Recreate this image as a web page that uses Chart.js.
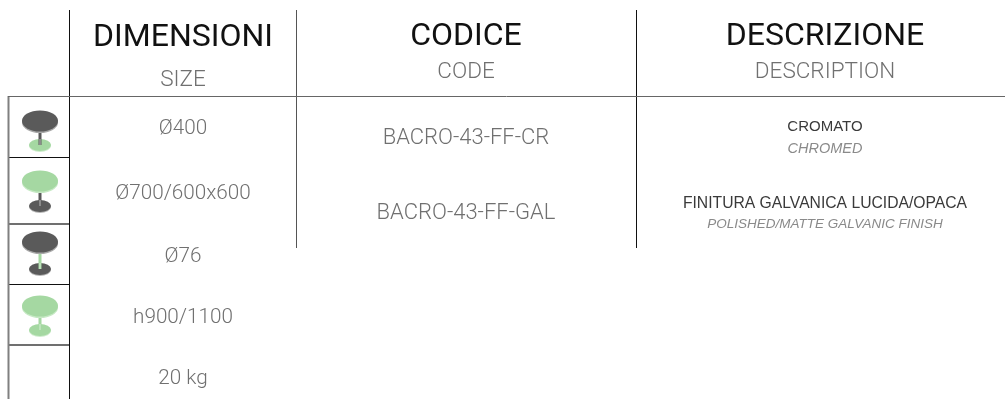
<!DOCTYPE html>
<html lang="it">
<head>
<meta charset="utf-8">
<title>BACRO-43 — scheda prodotto</title>
<style>
  html, body { margin: 0; padding: 0; background: #fff; }
  canvas { display: block; }
</style>
</head>
<body>
<canvas id="sheet" width="1005" height="399"></canvas>
<script src="https://cdn.jsdelivr.net/npm/chart.js@4"></script>
<script>
// ── Contenuti ────────────────────────────────────────────────────────────────
var headers     = ['DIMENSIONI', 'CODICE', 'DESCRIZIONE'];
var subHeaders  = ['SIZE', 'CODE', 'DESCRIPTION'];
var sizes       = ['Ø400', 'Ø700/600x600', 'Ø76', 'h900/1100', '20 kg'];
var codes       = ['BACRO-43-FF-CR', 'BACRO-43-FF-GAL'];
var finishes    = ['CROMATO', 'FINITURA GALVANICA LUCIDA/OPACA'];
var finishesEn  = ['CHROMED', 'POLISHED/MATTE GALVANIC FINISH'];
var iconColours = [['dark', 'dark', 'green'], ['green', 'dark', 'dark'], ['dark', 'green', 'dark'], ['green', 'green', 'green']]; // piano, stelo, base

// ── Layout (in pixel di pagina, gli assi coprono tutta la tela) ──────────────
var DARK = '#5a5a5a', GREEN = '#a5d8a2';
var PAL = { dark: DARK, green: GREEN };
var headX = [183, 466, 825];
var headY = [38, 36.5, 36.5];
var subY  = [80, 72, 72];
var sizeY = [129, 194, 257, 318, 379];
var codeY = [138, 213];
var finY  = [127, 204];
var finEnY = [149, 224];
var finFont = ['15px "Liberation Sans"', '15.7px "Liberation Sans"'];
var finEnFont = ['italic 14.5px "Liberation Sans"', 'italic 13.5px "Liberation Sans"'];
var iconX = 40;
var iconTopY  = [121, 181, 242, 306];
var iconBaseY = [145, 206, 269, 330];
var rules = [
  { x1: 8,   y1: 96.5,  x2: 1005, y2: 96.5,  c: '#666666', w: 1 },
  { x1: 8.5, y1: 96,    x2: 8.5,  y2: 399,   c: '#808080', w: 2 },
  { x1: 69.5, y1: 10,   x2: 69.5, y2: 399,   c: '#111111', w: 1 },
  { x1: 296.5, y1: 10,  x2: 296.5, y2: 248,  c: '#555555', w: 1 },
  { x1: 636.5, y1: 10,  x2: 636.5, y2: 248,  c: '#111111', w: 1 },
  { x1: 8,   y1: 157.5, x2: 69,   y2: 157.5, c: '#111111', w: 1 },
  { x1: 8,   y1: 224,   x2: 69,   y2: 224,   c: '#707070', w: 2 },
  { x1: 8,   y1: 284.5, x2: 69,   y2: 284.5, c: '#111111', w: 1 },
  { x1: 8,   y1: 345,   x2: 69,   y2: 345,   c: '#707070', w: 2 }
];

// ── Testi e icone ────────────────────────────────────────────────────────────
function put(ctx, txt, x, y, font, colour) {
  ctx.font = font;
  ctx.fillStyle = colour;
  ctx.textAlign = 'center';
  ctx.textBaseline = 'middle';
  ctx.fillText(txt, x, y);
}

function ell(ctx, cx, cy, rx, ry, colour) {
  ctx.beginPath();
  ctx.ellipse(cx, cy, rx, ry, 0, 0, Math.PI * 2);
  ctx.fillStyle = colour;
  ctx.fill();
}

function drawIcon(ctx, sx, sy, i) {
  var c = iconColours[i];
  var cx = sx.getPixelForValue(iconX);
  var top = sy.getPixelForValue(iconTopY[i]);
  var base = sy.getPixelForValue(iconBaseY[i]);
  // base con ombra/bordo chiaro
  ell(ctx, cx, base + 1, 11, 6, c[2] === 'dark' ? '#b5b5b5' : '#cfeccd');
  ell(ctx, cx, base, 11, 6, PAL[c[2]]);
  // stelo
  ctx.fillStyle = PAL[c[1]];
  ctx.fillRect(cx - 1.5, top, 3, base - top);
  ctx.fillStyle = c[1] === 'dark' ? '#bbbbbb' : '#d5efd3';
  ctx.fillRect(cx - 0.5, base - 6, 1, 6);
  // piano con spessore
  ell(ctx, cx, top + 1.5, 18, 10.5, c[0] === 'dark' ? '#a8a8a8' : '#c6e9c4');
  ell(ctx, cx, top, 18, 10.5, PAL[c[0]]);
}

var sheetPlugin = {
  id: 'sheet',
  afterDatasetsDraw: function (chart) {
    var ctx = chart.ctx, sx = chart.scales.x, sy = chart.scales.y;
    function X(v) { return sx.getPixelForValue(v); }
    function Y(v) { return sy.getPixelForValue(v); }
    ctx.save();
    headers.forEach(function (t, i) {
      put(ctx, t, X(headX[i]), Y(headY[i]), '400 32px Roboto', '#111111');
      put(ctx, subHeaders[i], X(headX[i]), Y(subY[i]), '300 22.5px Roboto', '#707070');
    });
    sizes.forEach(function (t, i) {
      put(ctx, t, X(headX[0]), Y(sizeY[i]), '300 20.7px Roboto', '#707070');
    });
    codes.forEach(function (t, i) {
      put(ctx, t, X(headX[1]), Y(codeY[i]), '300 22px Roboto', '#707070');
    });
    finishes.forEach(function (t, i) {
      put(ctx, t, X(headX[2]), Y(finY[i]), finFont[i], '#3a3a3a');
      put(ctx, finishesEn[i], X(headX[2]), Y(finEnY[i]), finEnFont[i], '#8a8a8a');
    });
    iconColours.forEach(function (c, i) { drawIcon(ctx, sx, sy, i); });
    ctx.restore();
  }
};

// ── Grafico ──────────────────────────────────────────────────────────────────
var ruleSets = rules.map(function (r) {
  return {
    data: [{ x: r.x1, y: r.y1 }, { x: r.x2, y: r.y2 }],
    showLine: true,
    borderColor: r.c,
    borderWidth: r.w,
    pointRadius: 0,
    tension: 0
  };
});

new Chart(document.getElementById('sheet'), {
  type: 'scatter',
  data: { datasets: ruleSets },
  options: {
    responsive: false,
    animation: false,
    layout: { padding: 0 },
    plugins: { legend: { display: false }, tooltip: { enabled: false } },
    scales: {
      x: { type: 'linear', min: 0, max: 1005, display: false },
      y: { type: 'linear', min: 0, max: 399, reverse: true, display: false }
    }
  },
  plugins: [sheetPlugin]
});
</script>
</body>
</html>
